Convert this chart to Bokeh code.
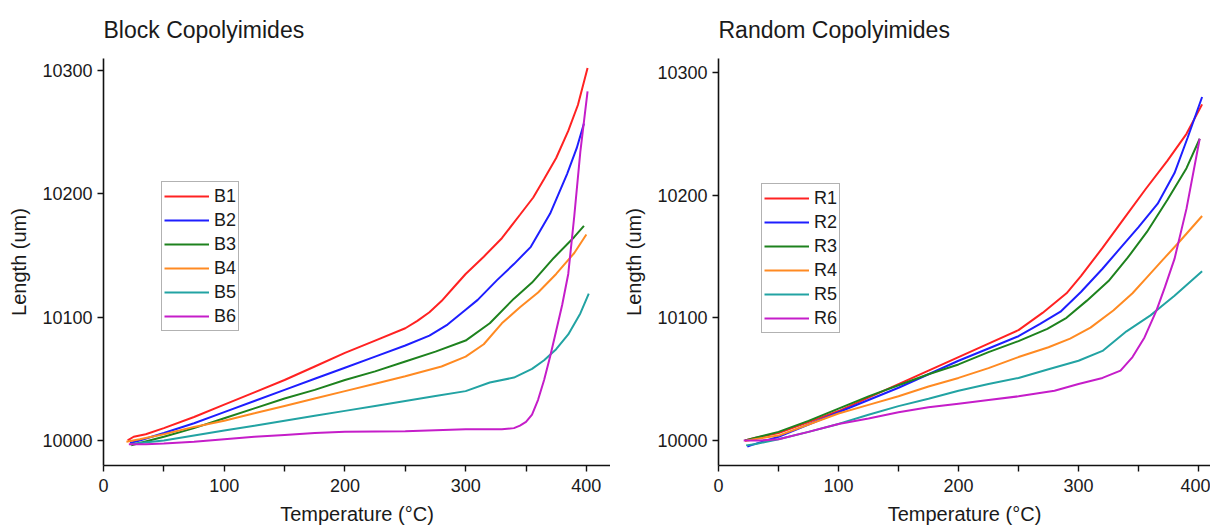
from bokeh.plotting import figure
from bokeh.layouts import row
from bokeh.models import Legend, LegendItem, Range1d, FixedTicker
from bokeh.embed import file_html
from bokeh.resources import INLINE

FONT = "Liberation Sans"
COLORS = ["#ff2222", "#1e1eff", "#1e821e", "#ff8a22", "#22a3a3", "#c51dc9"]

# ---------------- Block copolyimides ----------------
block_names = ["B1", "B2", "B3", "B4", "B5", "B6"]
b1_t = [20, 25, 35, 50, 75, 100, 125, 150, 175, 200, 225, 250, 260, 270, 280, 290, 300, 315, 330, 345, 356, 365, 375, 385, 393, 401]
b1_l = [10000, 10003, 10005, 10010, 10019, 10029, 10039, 10049, 10060, 10071, 10081, 10091, 10097, 10104, 10113, 10124, 10135, 10149, 10164, 10183, 10197, 10212, 10229, 10251, 10272, 10302]
b2_t = [22, 30, 50, 75, 100, 125, 150, 175, 200, 225, 250, 270, 285, 300, 310, 326, 340, 354, 370, 384, 392, 398]
b2_l = [9998, 10000, 10006, 10014, 10023, 10032, 10041, 10050, 10059, 10068, 10077, 10085, 10094, 10106, 10114, 10130, 10143, 10157, 10184, 10216, 10237, 10257]
b3_t = [23, 30, 50, 75, 100, 125, 150, 175, 200, 225, 250, 275, 300, 320, 340, 355, 373, 390, 398]
b3_l = [9996, 9998, 10003, 10010, 10018, 10026, 10034, 10041, 10049, 10056, 10064, 10072, 10081, 10095, 10115, 10128, 10148, 10165, 10174]
b4_t = [19, 30, 50, 75, 100, 125, 150, 175, 200, 225, 250, 280, 300, 315, 330, 345, 360, 375, 390, 400]
b4_l = [9999, 10001, 10005, 10011, 10016, 10022, 10028, 10034, 10040, 10046, 10052, 10060, 10068, 10078, 10095, 10108, 10120, 10135, 10152, 10167]
b5_t = [22, 30, 50, 75, 100, 125, 150, 175, 200, 225, 250, 275, 300, 320, 340, 355, 365, 375, 385, 395, 402]
b5_l = [9997, 9998, 10000, 10004, 10008, 10012, 10016, 10020, 10024, 10028, 10032, 10036, 10040, 10047, 10051, 10058, 10065, 10074, 10086, 10103, 10119]
b6_t = [21, 35, 50, 75, 100, 125, 150, 175, 200, 250, 300, 330, 340, 345, 350, 355, 360, 365, 370, 375, 380, 385, 390, 395, 401]
b6_l = [9997, 9997, 9997.5, 9999, 10001, 10003, 10004.5, 10006, 10007, 10007.5, 10009, 10009, 10010, 10012, 10015, 10021, 10033, 10049, 10068, 10089, 10110, 10135, 10182, 10234, 10283]

# ---------------- Random copolyimides ----------------
random_names = ["R1", "R2", "R3", "R4", "R5", "R6"]
r1_t = [22, 30, 50, 75, 100, 125, 150, 175, 200, 225, 250, 270, 290, 302, 320, 338, 356, 374, 390, 403]
r1_l = [10000, 10002, 10006, 10015, 10024, 10035, 10046, 10057, 10068, 10079, 10090, 10104, 10120, 10134, 10157, 10181, 10205, 10228, 10250, 10274]
r2_t = [24, 30, 50, 75, 100, 125, 150, 175, 200, 225, 250, 268, 285, 302, 320, 335, 350, 366, 380, 391, 403]
r2_l = [9995, 9997, 10003, 10013, 10023, 10033, 10043, 10054, 10065, 10075, 10085, 10095, 10105, 10121, 10140, 10157, 10174, 10193, 10218, 10247, 10280]
r3_t = [22, 30, 50, 75, 100, 125, 150, 175, 200, 225, 250, 274, 290, 307, 325, 341, 357, 374, 390, 401]
r3_l = [10000, 10002, 10007, 10016, 10026, 10036, 10045, 10054, 10062, 10072, 10081, 10091, 10100, 10114, 10130, 10149, 10170, 10196, 10222, 10246]
r4_t = [22, 30, 50, 75, 100, 125, 150, 175, 200, 225, 250, 275, 293, 310, 329, 345, 357, 370, 385, 403]
r4_l = [9999.5, 10001, 10004, 10013, 10022, 10029, 10036, 10044, 10051, 10059, 10068, 10076, 10083, 10092, 10106, 10120, 10133, 10147, 10163, 10183]
r5_t = [23, 30, 50, 75, 100, 125, 150, 175, 200, 225, 250, 275, 300, 320, 340, 360, 370, 380, 403]
r5_l = [9996, 9997, 10001, 10007, 10013.5, 10021, 10028, 10034, 10040.5, 10046, 10051, 10058, 10065, 10073, 10089, 10102, 10110, 10118, 10138]
r6_t = [21, 35, 50, 75, 100, 125, 150, 175, 200, 225, 250, 280, 300, 320, 335, 345, 355, 365, 372, 380, 390, 401]
r6_l = [10000, 10000, 10001, 10007, 10013.5, 10018, 10023, 10027, 10030, 10033, 10036, 10040.5, 10046, 10051, 10057, 10068, 10084, 10106, 10125, 10148, 10189, 10246]

x_ticks = [0, 100, 200, 300, 400]
x_minor = [50, 150, 250, 350]
y_ticks = [10000, 10100, 10200, 10300]


def make(title, names, series, width, border_left, x_end, y_range, legend_loc):
    p = figure(width=width, height=528, output_backend="svg", toolbar_location=None,
               x_range=Range1d(0, x_end), y_range=Range1d(*y_range),
               min_border_left=border_left, min_border_right=0,
               min_border_top=58, min_border_bottom=63,
               title=title)
    p.title.text_font = FONT
    p.title.text_font_size = "23px"
    p.title.text_font_style = "normal"
    p.title.text_color = "#1a1a1a"
    p.title.align = "left"
    p.title.vertical_align = "top"
    p.title.standoff = 27
    p.outline_line_color = None
    p.xgrid.visible = False
    p.ygrid.visible = False
    p.background_fill_color = "white"
    p.border_fill_color = "white"

    p.xaxis.ticker = FixedTicker(ticks=x_ticks, minor_ticks=x_minor)
    p.yaxis.ticker = FixedTicker(ticks=y_ticks)
    for ax in (p.xaxis, p.yaxis):
        ax.axis_line_color = "#111111"
        ax.axis_line_width = 1.6
        ax.major_tick_line_color = "#111111"
        ax.major_tick_line_width = 1.4
        ax.minor_tick_line_color = "#111111"
        ax.minor_tick_line_width = 1.4
        ax.major_tick_in = 0
        ax.major_tick_out = 6
        ax.minor_tick_in = 0
        ax.minor_tick_out = 6
        ax.major_label_text_font = FONT
        ax.major_label_text_font_size = "18px"
        ax.major_label_text_color = "#1a1a1a"
        ax.axis_label_text_font = FONT
        ax.axis_label_text_font_size = "20px"
        ax.axis_label_text_font_style = "normal"
        ax.axis_label_text_color = "#1a1a1a"
    p.xaxis.axis_label = "Temperature (°C)"
    p.yaxis.axis_label = "Length (um)"
    p.xaxis.major_label_standoff = 7
    p.xaxis.axis_label_standoff = 8
    p.yaxis.major_label_standoff = 5
    p.yaxis.axis_label_standoff = 9

    items = []
    for name, (t, l), c in zip(names, series, COLORS):
        r = p.line(t, l, line_color=c, line_width=2)
        items.append(LegendItem(label=name, renderers=[r]))
    leg = Legend(items=items, location=legend_loc)
    leg.border_line_color = "#666666"
    leg.border_line_width = 1
    leg.background_fill_alpha = 1
    leg.padding = 2
    leg.spacing = 0
    leg.margin = 0
    leg.glyph_width = 45
    leg.glyph_height = 24
    leg.label_height = 24
    leg.label_standoff = 5
    leg.label_text_font = FONT
    leg.label_text_font_size = "18px"
    leg.label_text_color = "#1a1a1a"
    p.add_layout(leg, "center")
    return p


p1 = make("Block Copolyimides", block_names,
          [(b1_t, b1_l), (b2_t, b2_l), (b3_t, b3_l), (b4_t, b4_l), (b5_t, b5_l), (b6_t, b6_l)],
          610, 103, 420, (9979.7, 10309.7), (58, 134))
p2 = make("Random Copolyimides", random_names,
          [(r1_t, r1_l), (r2_t, r2_l), (r3_t, r3_l), (r4_t, r4_l), (r5_t, r5_l), (r6_t, r6_l)],
          600, 108, 410, (9979.6, 10311.4), (43, 132))

layout = row(p1, p2, spacing=0)
open("out.html", "w").write(file_html(layout, INLINE))
